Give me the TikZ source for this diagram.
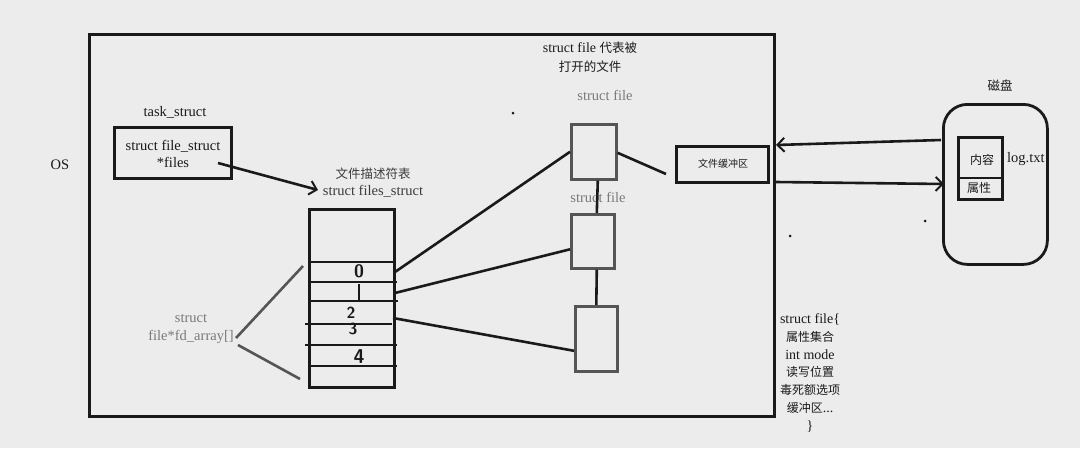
\documentclass[tikz,border=0pt]{standalone}
\usepackage{fontspec}
\setmainfont{Liberation Serif}
\newfontfamily\cjk{Noto Sans CJK SC}
\usetikzlibrary{arrows.meta}
\definecolor{bg}{HTML}{ECECEC}
\definecolor{ink}{HTML}{1A1A1A}
\definecolor{boxgray}{HTML}{555555}
\definecolor{txtgray}{HTML}{7A7A7A}
\begin{document}
\begin{tikzpicture}[x=1pt,y=-1pt,
  frame/.style={draw=ink, line width=3pt, inner sep=0pt, anchor=north west},
  filebox/.style={draw=boxgray, line width=2.6pt, inner sep=0pt, anchor=north west},
  lbl/.style={text=ink, font=\fontsize{14.5}{17}\selectfont, inner sep=0pt, align=center},
  glbl/.style={text=txtgray, font=\fontsize{14.5}{18}\selectfont, inner sep=0pt, align=center},
  conn/.style={draw=ink, line width=2.6pt},
  gconn/.style={draw=boxgray, line width=2.6pt},
  row/.style={draw=ink, line width=2.6pt},
  digit/.style={text=ink, font=\sffamily\bfseries\fontsize{16}{16}\selectfont, inner sep=0pt},
  hand/.style={draw=ink, line width=2.6pt, -{Straight Barb[length=7pt,width=14pt,line width=2pt]}},
  dot/.style={fill=ink, circle, inner sep=0pt, minimum size=3pt}]
\useasboundingbox[fill=bg] (0,0) rectangle (1080,448);

% main OS frame
\node[frame, minimum width=685pt, minimum height=382pt] (os) at (88,33) {};
\node[lbl] (oslbl) at (60,165) {OS};

% task_struct
\node[lbl] (tasklbl) at (175,112) {task\_struct};
\node[frame, minimum width=117pt, minimum height=51pt] (task) at (113,126) {};
\node[lbl] (tasktxt) at (173,154) {struct file\_struct\\*files};

% files_struct label
\node[lbl, text=ink!85] (fslbl) at (373,183) {{\cjk\fontsize{12.5}{17}\selectfont 文件描述符表}\\struct files\_struct};

% fd array
\node[frame, minimum width=85pt, minimum height=178pt] (arr) at (308,208) {};
\draw[row] (308,262) -- (393,262);
\draw[row] (308,282) -- (397,282);
\draw[row] (308,301) -- (398,301);
\draw[row] (305,324) -- (392,324);
\draw[row] (305,345) -- (397,345);
\draw[row] (308,366) -- (397,366);
\node[digit, font=\sffamily\bfseries\fontsize{18}{18}\selectfont] (d0) at (359,271) {0};
\draw[ink, line width=2.2pt] (359,284) -- (359,300);
\node[digit] (d2) at (351,313) {2};
\node[digit] (d3) at (353,329) {3};
\node[digit, font=\sffamily\bfseries\fontsize{20}{20}\selectfont] (d4) at (359,357) {4};

\coordinate (r0) at (395,272);
\coordinate (r1) at (395,293);
\coordinate (r3) at (393,318);

% task -> files_struct
\coordinate (tstart) at (218,163);
\coordinate (tend) at (318,190);
\draw[hand] (tstart) -- (tend);

% fd_array label
\node[glbl] (fdlbl) at (191,329) {struct\\file*fd\_array[]};
\coordinate (fa) at (236,338);
\coordinate (fb) at (238,345);
\coordinate (fat) at (303,266);
\coordinate (fbt) at (300,379);
\draw[gconn] (fa) -- (fat);
\draw[gconn] (fb) -- (fbt);

% struct file boxes
\node[lbl, font=\fontsize{14}{19}\selectfont] (sftitle) at (590,57) {struct file {\cjk\fontsize{12.5}{19}\selectfont 代表被}\\{\cjk\fontsize{12.5}{19}\selectfont 打开的文件}};
\node[glbl] (sf1lbl) at (605,95) {struct file};
\node[glbl] (sf2lbl) at (598,197) {struct file};
\node[filebox, minimum width=45pt, minimum height=55pt] (f1) at (570,123) {};
\node[filebox, minimum width=43pt, minimum height=54pt] (f2) at (570,213) {};
\node[filebox, minimum width=42pt, minimum height=65pt] (f3) at (574,305) {};

\draw[conn] (r0) -- (f1.west);
\draw[conn] (r1) -- ([yshift=-8pt]f2.west);
\draw[conn] (r3) -- ([yshift=-12pt]f3.west);
\draw[conn] ([xshift=4pt]f1.south) -- ([xshift=4pt]f2.north);
\draw[conn] ([xshift=4pt]f2.south) -- ([xshift=0pt]f3.north);

% buffer
\node[frame, minimum width=92pt, minimum height=36pt] (buf) at (675,145) {};
\node[lbl, font=\cjk\fontsize{10}{14}\selectfont] (buftxt) at (723,164) {文件缓冲区};
\coordinate (bufl) at (666,174);
\draw[conn] ([yshift=-1pt]f1.east) -- (bufl);

% disk
\node[lbl, font=\cjk\fontsize{12.5}{14}\selectfont] (disklbl) at (1000,86) {磁盘};
\node[draw=ink, line width=2.8pt, rounded corners=24pt, minimum width=104pt, minimum height=160pt, inner sep=0pt, anchor=north west] (disk) at (942,103) {};
\node[frame, minimum width=44pt, minimum height=62pt] (file) at (957,136) {};
\draw[row] (957,178) -- (1001,178);
\node[lbl, font=\cjk\fontsize{12}{14}\selectfont] (content) at (982,160) {内容};
\node[lbl, font=\cjk\fontsize{12}{14}\selectfont] (attr) at (979,188) {属性};
\node[lbl, anchor=west] (logtxt) at (1007,159) {log.txt};

% arrows between OS and disk
\coordinate (a1s) at (941,140);
\coordinate (a1e) at (776,145);
\coordinate (a2s) at (776,182);
\coordinate (a2e) at (944,184);
\draw[hand] (a1s) -- (a1e);
\draw[hand] (a2s) -- (a2e);

% dots
\node[dot] (p1) at (513,113) {};
\node[dot] (p2) at (790,236) {};
\node[dot] (p3) at (925,221) {};

% struct file definition
\node[lbl, font=\fontsize{14}{17.8}\selectfont] (def) at (810,373) {struct file\{\\{\cjk\fontsize{12}{17.8}\selectfont 属性集合}\\int mode\\{\cjk\fontsize{12}{17.8}\selectfont 读写位置}\\{\cjk\fontsize{12}{17.8}\selectfont 毒死额选项}\\{\cjk\fontsize{12}{17.8}\selectfont 缓冲区}...\\\}};
\end{tikzpicture}
\end{document}
